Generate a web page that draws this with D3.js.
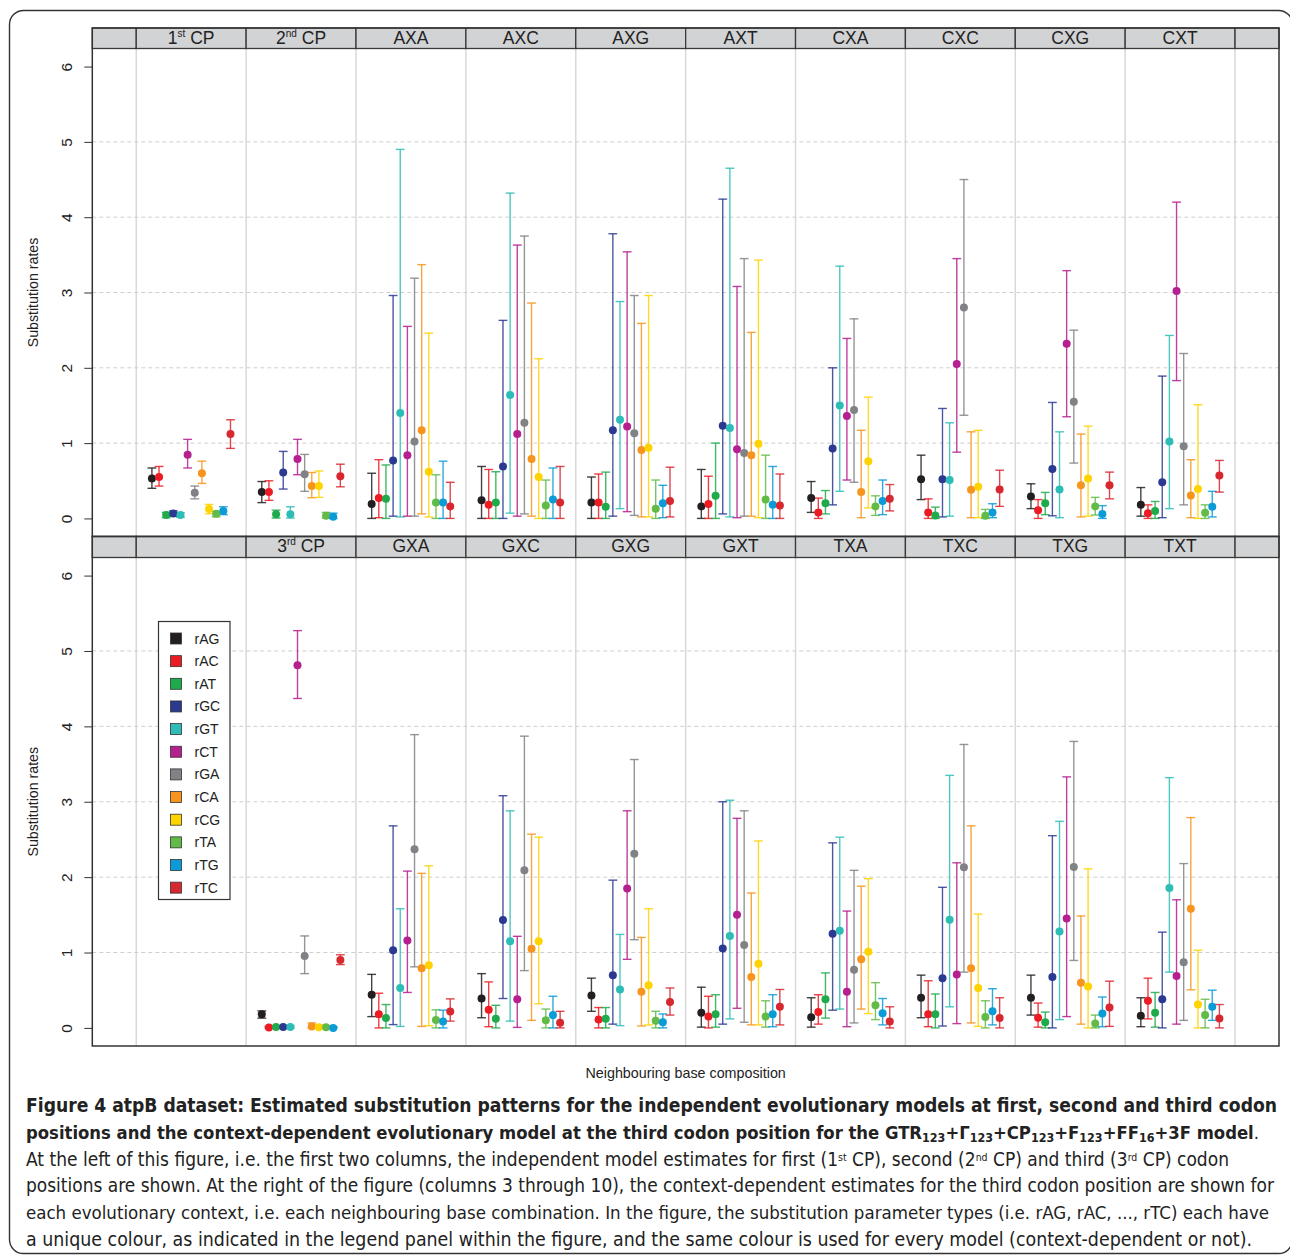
<!DOCTYPE html>
<html>
<head>
<meta charset="utf-8">
<title>atpB substitution rates</title>
<script src="https://d3js.org/d3.v7.min.js"></script>
<style>
  body { margin: 0; background: #fff; }
  svg text { font-family: "Liberation Sans", Arial, sans-serif; fill: #222; }
  .caption text { white-space: pre; }
</style>
</head>
<body>
<svg id="fig" width="1290" height="1257"></svg>
<script>
// substitution parameter types and their colours
const params = ["rAG", "rAC", "rAT", "rGC", "rGT", "rCT", "rGA", "rCA", "rCG", "rTA", "rTG", "rTC"];
const colors = ["#231f20", "#ed1c24", "#1fab4b", "#2b3990", "#2ebdb6", "#b51f8f",
                "#808285", "#f7941d", "#ffd200", "#62bb46", "#0b9bd7", "#d7272f"];

// column headers (positions 1..10 between the grid lines)
const topColumns = ["1st CP", "2nd CP", "AXA", "AXC", "AXG", "AXT", "CXA", "CXC", "CXG", "CXT"];
const bottomColumns = ["", "3rd CP", "GXA", "GXC", "GXG", "GXT", "TXA", "TXC", "TXG", "TXT"];
const yTicks = [0, 1, 2, 3, 4, 5, 6];

// estimates per column: [estimate, lower, upper] for each parameter in `params` order
const cp1 = [[0.53,0.40,0.67],[0.55,0.43,0.69],[0.045,0.01,0.08],[0.066,0.03,0.10],[0.044,0.015,0.075],[0.845,0.67,1.05],
             [0.34,0.26,0.43],[0.60,0.465,0.76],[0.124,0.062,0.186],[0.062,0.022,0.093],[0.10,0.05,0.155],[1.12,0.93,1.31]];
const cp2 = [[0.35,0.21,0.49],[0.35,0.24,0.50],[0.055,0.005,0.11],[0.61,0.39,0.89],[0.055,0.005,0.155],[0.79,0.58,1.05],
             [0.585,0.36,0.85],[0.43,0.275,0.61],[0.43,0.28,0.63],[0.036,0.005,0.08],[0.023,0,0.07],[0.56,0.42,0.72]];
const AXA = [[0.19,0,0.60],[0.27,0.01,0.78],[0.26,0,0.71],[0.77,0.03,2.96],[1.40,0.02,4.90],[0.84,0.03,2.55],
             [1.02,0.03,3.19],[1.17,0.06,3.37],[0.62,0.02,2.46],[0.21,0,0.58],[0.21,0,0.76],[0.16,0,0.48]];
const AXC = [[0.24,0,0.69],[0.18,0,0.65],[0.21,0,0.62],[0.69,0,2.63],[1.64,0.07,4.32],[1.12,0.03,3.63],
             [1.27,0.06,3.75],[0.79,0.03,2.86],[0.55,0,2.12],[0.17,0,0.51],[0.25,0,0.67],[0.21,0,0.69]];
const AXG = [[0.21,0,0.55],[0.21,0,0.59],[0.155,0,0.615],[1.17,0.03,3.78],[1.31,0.13,2.88],[1.22,0.09,3.54],
             [1.13,0.04,2.96],[0.91,0.02,2.59],[0.94,0.02,2.96],[0.13,0,0.51],[0.20,0.01,0.44],[0.23,0.02,0.68]];
const AXT = [[0.16,0,0.65],[0.19,0,0.56],[0.30,0,1.00],[1.23,0.06,4.24],[1.20,0.02,4.65],[0.92,0.01,3.08],
             [0.87,0.03,3.45],[0.84,0.03,2.47],[0.99,0.01,3.43],[0.25,0,0.84],[0.18,0,0.69],[0.17,0,0.59]];
const CXA = [[0.27,0.08,0.49],[0.08,0,0.27],[0.20,0.06,0.37],[0.93,0.18,2.00],[1.50,0.36,3.35],[1.36,0.51,2.39],
             [1.44,0.48,2.65],[0.35,0.01,1.17],[0.76,0.14,1.61],[0.16,0.04,0.30],[0.23,0.05,0.51],[0.26,0.10,0.45]];
const CXC = [[0.52,0.25,0.84],[0.08,0,0.26],[0.04,0,0.15],[0.52,0.02,1.46],[0.51,0.03,1.27],[2.05,0.88,3.45],
             [2.80,1.37,4.50],[0.38,0.01,1.15],[0.42,0.01,1.17],[0.035,0,0.12],[0.08,0.01,0.195],[0.385,0.16,0.64]];
const CXG = [[0.29,0.13,0.46],[0.11,0,0.25],[0.20,0.05,0.345],[0.655,0.035,1.54],[0.385,0.01,1.15],[2.32,1.35,3.29],
             [1.55,0.735,2.50],[0.44,0.02,1.12],[0.53,0.03,1.225],[0.16,0.045,0.28],[0.06,0,0.17],[0.44,0.26,0.615]];
const CXT = [[0.18,0.03,0.41],[0.07,0,0.18],[0.10,0,0.225],[0.48,0.01,1.89],[1.02,0.13,2.43],[3.02,1.83,4.20],
             [0.96,0.18,2.19],[0.305,0.01,0.78],[0.39,0,1.51],[0.075,0,0.18],[0.155,0.02,0.36],[0.57,0.35,0.77]];
const cp3 = [[0.18,0.13,0.225],[0.005,0,0.02],[0.013,0,0.03],[0.013,0,0.03],[0.013,0,0.03],[4.81,4.37,5.27],
             [0.955,0.72,1.22],[0.02,0,0.066],[0.01,0,0.04],[0.01,0,0.03],[0.0,0,0.015],[0.90,0.84,0.97]];
const GXA = [[0.44,0.15,0.71],[0.18,0,0.46],[0.13,0,0.31],[1.03,0.044,2.68],[0.53,0.02,1.58],[1.16,0.47,2.08],
             [2.37,0.81,3.89],[0.79,0.02,2.05],[0.83,0.03,2.15],[0.106,0,0.24],[0.084,0,0.235],[0.217,0.09,0.385]];
const GXC = [[0.39,0.135,0.72],[0.24,0.016,0.61],[0.12,0,0.30],[1.43,0.39,3.08],[1.15,0.09,2.88],[0.38,0.007,1.215],
             [2.09,0.76,3.87],[1.05,0.10,2.57],[1.15,0.32,2.53],[0.10,0,0.25],[0.17,0,0.42],[0.07,0,0.22]];
const GXG = [[0.43,0.22,0.66],[0.11,0,0.27],[0.12,0,0.27],[0.70,0.05,1.96],[0.51,0.03,1.24],[1.85,0.91,2.88],
             [2.31,1.17,3.56],[0.48,0.025,1.20],[0.565,0.04,1.58],[0.095,0,0.22],[0.075,0,0.185],[0.345,0.17,0.53]];
const GXT = [[0.20,0.01,0.54],[0.15,0,0.42],[0.18,0.01,0.44],[1.055,0.05,3.00],[1.22,0.12,3.02],[1.50,0.26,2.78],
             [1.10,0.075,2.88],[0.675,0.04,1.79],[0.85,0.04,2.48],[0.15,0.01,0.36],[0.18,0.016,0.44],[0.28,0.04,0.51]];
const TXA = [[0.14,0.01,0.40],[0.21,0.05,0.44],[0.38,0.13,0.73],[1.25,0.235,2.455],[1.29,0.25,2.53],[0.48,0.016,1.55],
             [0.77,0.066,2.09],[0.91,0.25,1.88],[1.01,0.19,1.98],[0.30,0.11,0.60],[0.195,0.04,0.39],[0.085,0,0.28]];
const TXC = [[0.40,0.135,0.70],[0.18,0.016,0.625],[0.18,0,0.45],[0.66,0.025,1.865],[1.435,0.28,3.35],[0.71,0.057,2.19],
             [2.13,0.74,3.76],[0.79,0.066,2.68],[0.53,0.02,1.51],[0.145,0,0.36],[0.22,0.04,0.52],[0.13,0,0.40]];
const TXG = [[0.40,0.17,0.70],[0.135,0.01,0.33],[0.075,0,0.21],[0.675,0,2.55],[1.28,0.11,2.74],[1.45,0.15,3.33],
             [2.135,0.895,3.80],[0.60,0.05,1.485],[0.55,0,2.11],[0.06,0,0.17],[0.19,0.016,0.41],[0.27,0.02,0.62]];
const TXT = [[0.16,0.016,0.40],[0.36,0.12,0.66],[0.20,0.01,0.47],[0.38,0,1.27],[1.855,0.74,3.32],[0.69,0.05,1.70],
             [0.87,0.10,2.18],[1.58,0.505,2.79],[0.31,0,1.03],[0.17,0,0.38],[0.28,0.10,0.50],[0.125,0,0.31]];

const topData = [cp1, cp2, AXA, AXC, AXG, AXT, CXA, CXC, CXG, CXT];
const bottomData = [null, cp3, GXA, GXC, GXG, GXT, TXA, TXC, TXG, TXT];

const svg = d3.select("#fig");

// outer figure frame
svg.append("rect")
  .attr("x", 9.5).attr("y", 10.5)
  .attr("width", 1283).attr("height", 1243)
  .attr("rx", 14)
  .attr("fill", "none").attr("stroke", "#333").attr("stroke-width", 1.4);

// shared x scale: grid lines at integer positions, columns centred on k + 0.5
const x = d3.scaleLinear().domain([0.6, 11.4]).range([92.3, 1279]);
const offset = d3.scalePoint().domain(params).range([-0.3575, 0.3575]);
const boundaries = [0.6].concat(d3.range(1, 12), [11.4]);

function headerLabel(sel, label) {
  const m = label.match(/^(\d)(st|nd|rd) (.*)$/);
  if (m) {
    sel.append("tspan").text(m[1]);
    sel.append("tspan").attr("font-size", 10).attr("dy", -7).text(m[2]);
    sel.append("tspan").attr("dy", 7).text(" " + m[3]);
  } else {
    sel.text(label);
  }
}

function drawPanel(columns, data, headTop, plotTop, plotBottom) {
  const y = d3.scaleLinear().domain([-0.24, 6.24]).range([plotBottom, plotTop]);
  const g = svg.append("g");

  // vertical column separators
  g.selectAll("line.vgrid")
    .data(d3.range(1, 12))
    .join("line")
      .attr("class", "vgrid")
      .attr("x1", d => x(d)).attr("x2", d => x(d))
      .attr("y1", plotTop).attr("y2", plotBottom)
      .attr("stroke", "#d9d9d9").attr("stroke-width", 1.5);

  // dashed horizontal reference lines
  g.selectAll("line.hgrid")
    .data([1, 2, 3, 4, 5])
    .join("line")
      .attr("class", "hgrid")
      .attr("x1", x(0.6)).attr("x2", x(11.4))
      .attr("y1", d => y(d)).attr("y2", d => y(d))
      .attr("stroke", "#cfcfcf").attr("stroke-width", 1)
      .attr("stroke-dasharray", "4,3");

  // header strip
  const labels = [""].concat(columns, [""]);
  const cells = g.selectAll("g.cell")
    .data(labels)
    .join("g").attr("class", "cell");
  cells.append("rect")
    .attr("x", (d, i) => x(boundaries[i]))
    .attr("y", headTop)
    .attr("width", (d, i) => x(boundaries[i + 1]) - x(boundaries[i]))
    .attr("height", plotTop - headTop)
    .attr("fill", "#d2d3d5").attr("stroke", "#3a3a3a").attr("stroke-width", 1.3);
  cells.append("text")
    .attr("x", (d, i) => (x(boundaries[i]) + x(boundaries[i + 1])) / 2)
    .attr("y", headTop + 15.5)
    .attr("text-anchor", "middle")
    .attr("font-size", 17.5)
    .each(function(d) { headerLabel(d3.select(this), d); });

  // panel frame
  g.append("rect")
    .attr("x", x(0.6)).attr("y", headTop)
    .attr("width", x(11.4) - x(0.6)).attr("height", plotBottom - headTop)
    .attr("fill", "none").attr("stroke", "#333").attr("stroke-width", 1.5);

  // y axis
  const axis = g.append("g")
    .attr("transform", `translate(${x(0.6)},0)`)
    .call(d3.axisLeft(y).tickValues(yTicks).tickSize(8).tickFormat(d3.format("d")));
  axis.select(".domain").remove();
  axis.selectAll(".tick line").attr("stroke", "#333");
  axis.selectAll(".tick text")
    .attr("x", 0).attr("dy", 0)
    .attr("transform", "translate(-20,0) rotate(-90)")
    .attr("text-anchor", "middle")
    .style("font-size", "15.5px")
    .attr("font-family", "Liberation Sans, Arial, sans-serif")
    .attr("fill", "#222");

  g.append("text")
    .attr("transform", `translate(37.5,${(plotTop + plotBottom) / 2}) rotate(-90)`)
    .attr("text-anchor", "middle")
    .attr("font-size", 14.2)
    .text("Substitution rates");

  // error bars and estimates
  data.forEach((col, ci) => {
    if (!col) return;
    const pos = ci + 1.5;
    const pts = col.map((v, i) => ({ p: params[i], c: colors[i], est: v[0], lo: v[1], hi: v[2], cx: x(pos + offset(params[i])) }));
    const bars = g.append("g").selectAll("g")
      .data(pts).join("g")
      .attr("stroke", d => d.c).attr("stroke-width", 1.4).attr("stroke-opacity", 0.85);
    bars.append("line")
      .attr("x1", d => d.cx).attr("x2", d => d.cx)
      .attr("y1", d => y(d.lo)).attr("y2", d => y(d.hi));
    bars.append("line")
      .attr("x1", d => d.cx - 4.4).attr("x2", d => d.cx + 4.4)
      .attr("y1", d => y(d.hi)).attr("y2", d => y(d.hi));
    bars.append("line")
      .attr("x1", d => d.cx - 4.4).attr("x2", d => d.cx + 4.4)
      .attr("y1", d => y(d.lo)).attr("y2", d => y(d.lo));
    g.append("g").selectAll("circle")
      .data(pts).join("circle")
      .attr("cx", d => d.cx).attr("cy", d => y(d.est))
      .attr("r", 4).attr("fill", d => d.c);
  });
}

drawPanel(topColumns, topData, 28, 48.5, 536.5);
drawPanel(bottomColumns, bottomData, 536.5, 557.5, 1046);

// legend
const legend = svg.append("g").attr("transform", "translate(158.5,621.5)");
legend.append("rect")
  .attr("width", 71.5).attr("height", 278)
  .attr("fill", "#fff").attr("stroke", "#333").attr("stroke-width", 1.2);
const items = legend.selectAll("g.item")
  .data(params).join("g").attr("class", "item")
  .attr("transform", (d, i) => `translate(0,${17 + i * 22.65})`);
items.append("rect")
  .attr("x", 12).attr("y", -5.5).attr("width", 11).attr("height", 11)
  .attr("fill", (d, i) => colors[i]).attr("stroke", "#333").attr("stroke-width", 0.8);
items.append("text")
  .attr("x", 36).attr("y", 5)
  .attr("font-size", 14)
  .text(d => d);

svg.append("text")
  .attr("x", x(6)).attr("y", 1078)
  .attr("text-anchor", "middle")
  .attr("font-size", 14.3)
  .text("Neighbouring base composition");

// caption: each line is one or more chunks of [text, kind] segments
const captionLines = [
  { y: 1112, w: 1251, bold: true, chunks: [
    [["Figure 4 atpB dataset: Estimated substitution patterns for the independent "]],
    [["evolutionary models at first, second and third codon"]] ] },
  { y: 1139, w: 1233, bold: true, chunks: [
    [["positions and the context-dependent evolutionary model at the third codon position for the GTR"], ["123", "sub"], ["+Γ"], ["123", "sub"], ["+CP"], ["123", "sub"], ["+F"], ["123", "sub"], ["+FF"], ["16", "sub"], ["+3F model"], [".", "n"]] ] },
  { y: 1166, w: 1203, bold: false, chunks: [
    [["At the left of this figure, i.e. the first two columns, the independent model estimates for first (1"], ["st", "sup"], [" CP), second (2"], ["nd", "sup"], [" CP) and third (3"], ["rd", "sup"], [" CP) codon"]] ] },
  { y: 1192, w: 1248, bold: false, chunks: [
    [["positions are shown. At the right of the figure (columns 3 through 10), the "]],
    [["context-dependent estimates for the third codon position are shown for"]] ] },
  { y: 1219, w: 1243, bold: false, chunks: [
    [["each evolutionary context, i.e. each neighbouring base combination. In the figure, "]],
    [["the substitution parameter types (i.e. rAG, rAC, ..., rTC) each have"]] ] },
  { y: 1246, w: 1226, bold: false, chunks: [
    [["a unique colour, as indicated in the legend panel within the figure, "]],
    [["and the same colour is used for every model (context-dependent or not)."]] ] }
];

// pick a narrow face for the caption if one is installed
function installed(family) {
  const probe = svg.append("text").attr("font-size", 40).style("font-family", "monospace")
    .text("abcdefghijklmnopqrstuvwxyz ABCDEFG");
  const base = probe.node().getComputedTextLength();
  probe.style("font-family", `"${family}", monospace`);
  const w = probe.node().getComputedTextLength();
  probe.remove();
  return Math.abs(w - base) > 0.5;
}
const capFamily = ["Liberation Sans Narrow", "DejaVu Sans Condensed", "Open Sans"].find(installed) || "sans-serif";

const cap = svg.append("g").attr("class", "caption");
function writeLine(line, size) {
  return line.chunks.map(segs => {
    const t = cap.append("text")
      .attr("x", 26).attr("y", line.y)
      .style("font-family", `"${capFamily}", sans-serif`)
      .attr("font-size", size)
      .attr("font-weight", line.bold ? 700 : 400)
      .attr("fill", line.bold ? "#1a1a1a" : "#3c3c3c");
    let shift = 0;
    segs.forEach(([txt, kind]) => {
      const s = t.append("tspan").text(txt);
      let target = 0;
      if (kind === "sub") { s.attr("font-size", size * 0.68); target = size * 0.17; }
      if (kind === "sup") { s.attr("font-size", size * 0.55); target = -size * 0.25; }
      if (kind === "n") s.attr("font-weight", 400);
      if (target !== shift) { s.attr("dy", target - shift); shift = target; }
    });
    return t;
  });
}
captionLines.forEach(line => {
  // size the font so the line's natural width matches the original, then fit exactly
  let texts = writeLine(line, 19);
  const nat19 = d3.sum(texts, t => t.node().getComputedTextLength());
  texts.forEach(t => t.remove());
  const size = Math.min(20.5, 19 * line.w * 0.995 / nat19);
  texts = writeLine(line, size);
  const natural = texts.map(t => t.node().getComputedTextLength());
  const k = line.w / d3.sum(natural);
  let cx = 26;
  texts.forEach((t, i) => {
    t.attr("x", cx)
      .attr("textLength", natural[i] * k)
      .attr("lengthAdjust", "spacingAndGlyphs");
    cx += natural[i] * k;
  });
});
</script>
</body>
</html>
